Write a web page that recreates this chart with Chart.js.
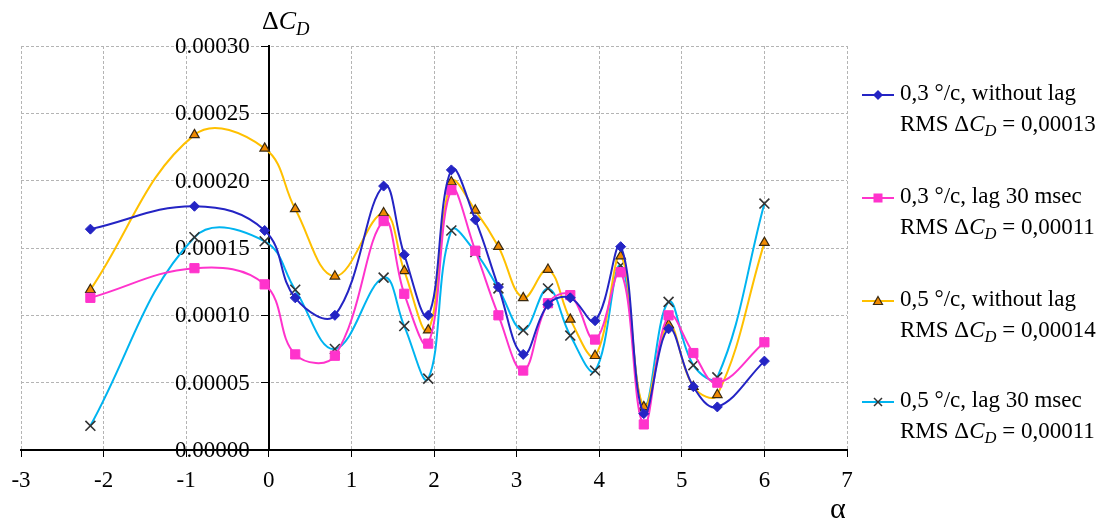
<!DOCTYPE html>
<html>
<head>
<meta charset="utf-8">
<script src="https://cdn.jsdelivr.net/npm/chart.js@4.4.1/dist/chart.umd.min.js"></script>
<style>
  html, body { margin: 0; padding: 0; background: #fff; }
  #wrap { position: relative; width: 1112px; height: 525px; font-family: "Liberation Serif", "DejaVu Serif", serif; color: #000; }
  #c { position: absolute; left: 0; top: 0; }
  .txt { position: absolute; line-height: 1; white-space: nowrap; }
  sub { font-size: 0.72em; vertical-align: -0.32em; line-height: 0; font-style: italic; }
  .leg { position: absolute; left: 900px; font-size: 23px; line-height: 31px; white-space: nowrap; }
  .mk { position: absolute; left: 862px; }
</style>
</head>
<body>
<div id="wrap">
  <canvas id="c" width="1112" height="525"></canvas>
  <div class="txt" style="left:262px; top:8px; font-size:26px;">&Delta;<i>C</i><sub>D</sub></div>
  <div class="txt" style="left:830px; top:493px; font-size:30px;">&alpha;</div>
  <div id="legend"></div>
</div>
<script>
// 横坐标 α
const alpha = [-2.16, -0.90, -0.05, 0.32, 0.80, 1.39, 1.64, 1.93, 2.21, 2.50, 2.78, 3.08, 3.38, 3.65, 3.95, 4.26, 4.54, 4.84, 5.14, 5.43, 6.00];

// 四条曲线 ΔC_D
const noLag03 = [0.000164, 0.000181, 0.000163, 0.000113, 0.000100, 0.000196, 0.000145, 0.000100, 0.000208, 0.000171, 0.000121, 0.000071, 0.000108, 0.000113, 0.000096, 0.000151, 0.000027, 0.000090, 0.000047, 0.000032, 0.000066];
const lag03   = [0.000113, 0.000135, 0.000123, 0.000071, 0.000070, 0.000170, 0.000116, 0.000079, 0.000193, 0.000148, 0.000100, 0.000059, 0.000109, 0.000115, 0.000082, 0.000132, 0.000019, 0.000100, 0.000072, 0.000050, 0.000080];
const noLag05 = [0.000119, 0.000234, 0.000224, 0.000179, 0.000129, 0.000176, 0.000133, 0.000089, 0.000199, 0.000178, 0.000151, 0.000113, 0.000134, 0.000097, 0.000070, 0.000144, 0.000032, 0.000093, 0.000047, 0.000041, 0.000154];
const lag05   = [0.000018, 0.000158, 0.000155, 0.000119, 0.000075, 0.000128, 0.000092, 0.000053, 0.000163, 0.000147, 0.000120, 0.000089, 0.000120, 0.000085, 0.000059, 0.000137, 0.000032, 0.000110, 0.000063, 0.000054, 0.000183];

const seriesNames = ['0,3 °/c, without lag', '0,3 °/c, lag 30 msec', '0,5 °/c, without lag', '0,5 °/c, lag 30 msec'];
const rmsValues   = ['0,00013', '0,00011', '0,00014', '0,00011'];

// 坐标轴范围
const xMin = -3, xMax = 7, xStep = 1;
const yMin = 0, yMax = 0.0003, yStep = 0.00005;

const toPts = ys => ys.map((y, i) => ({ x: alpha[i], y }));

const styles = [
  { line: '#2424C4', style: 'rectRot',   r: 5,   fill: '#2424C4', edge: '#2424C4', bw: 1 },
  { line: '#FF33CC', style: 'rect',      r: 6.5, fill: '#FF33CC', edge: '#FF33CC', bw: 1 },
  { line: '#FFC000', style: 'triangle',  r: 5.5, fill: '#F08A00', edge: '#3a2a10', bw: 1.2 },
  { line: '#00B4F0', style: 'crossRot',  r: 7,   fill: '#333',    edge: '#333',    bw: 1.6 }
];
const allData = [noLag03, lag03, noLag05, lag05];

// y 轴刻度文字画在 α=0 的轴线左边
const yLabelPlugin = {
  id: 'yLabels',
  beforeDatasetsDraw(chart) {
    const { ctx, scales: { x, y } } = chart;
    const px = x.getPixelForValue(0) - 19;
    ctx.save();
    ctx.font = '23px "Liberation Serif"';
    ctx.fillStyle = '#000';
    ctx.textAlign = 'right';
    ctx.textBaseline = 'middle';
    y.ticks.forEach(t => ctx.fillText(t.value.toFixed(5), px, y.getPixelForValue(t.value) + 1));
    ctx.restore();
  }
};

const chart = new Chart(document.getElementById('c'), {
  type: 'line',
  data: {
    datasets: allData.map((d, i) => ({
      label: seriesNames[i],
      data: toPts(d),
      borderColor: styles[i].line,
      borderWidth: 2,
      tension: 0.4,
      fill: false,
      pointStyle: styles[i].style,
      pointRadius: styles[i].r,
      pointBackgroundColor: styles[i].fill,
      pointBorderColor: styles[i].edge,
      pointBorderWidth: styles[i].bw
    }))
  },
  options: {
    responsive: false,
    animation: false,
    layout: { padding: { left: 21, right: 265, top: 46, bottom: 0 } },
    plugins: { legend: { display: false }, tooltip: { enabled: false } },
    scales: {
      x: {
        type: 'linear',
        min: xMin, max: xMax,
        ticks: { stepSize: xStep, color: '#000', font: { family: 'Liberation Serif', size: 23 }, padding: 10,
                 callback: v => String(v) },
        grid: { color: '#b4b4b4', tickColor: '#000', tickLength: 7, tickBorderDash: [] },
        border: { display: true, color: '#000', width: 2, dash: [3, 2] },
        afterFit: s => { s.height = 75; }
      },
      y: {
        type: 'linear',
        position: { x: 0 },
        min: yMin, max: yMax,
        ticks: { stepSize: yStep, display: false },
        grid: { color: '#b4b4b4', tickColor: '#000', tickLength: 7, tickBorderDash: [] },
        border: { display: true, color: '#000', width: 2, dash: [3, 2] },
        afterFit: s => { s.width = 0; }
      }
    }
  },
  plugins: [yLabelPlugin]
});

// 图例（两行文字带下标，用 HTML 画）
const legTops = [77, 180, 283, 384];
const svgMarker = st => {
  let m = '';
  if (st.style === 'rectRot') m = `<polygon points="16,1 21,6 16,11 11,6" fill="${st.fill}"/>`;
  if (st.style === 'rect') m = `<rect x="11.5" y="1.5" width="9" height="9" fill="${st.fill}"/>`;
  if (st.style === 'triangle') m = `<polygon points="16,1.5 20.5,9.5 11.5,9.5" fill="${st.fill}" stroke="${st.edge}" stroke-width="1.2"/>`;
  if (st.style === 'crossRot') m = `<path d="M12,2 L20,10 M20,2 L12,10" stroke="${st.edge}" stroke-width="1.5"/>`;
  return `<svg width="32" height="12"><line x1="0" y1="6" x2="32" y2="6" stroke="${st.line}" stroke-width="2"/>${m}</svg>`;
};
document.getElementById('legend').innerHTML = seriesNames.map((n, i) =>
  `<div class="mk" style="top:${legTops[i] + 10}px">${svgMarker(styles[i])}</div>` +
  `<div class="leg" style="top:${legTops[i]}px">${n}<br>RMS &Delta;<i>C</i><sub>D</sub> = ${rmsValues[i]}</div>`
).join('');
</script>
</body>
</html>
